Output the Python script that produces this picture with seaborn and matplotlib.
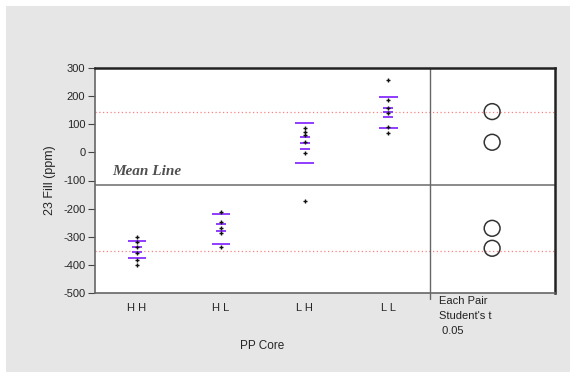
import matplotlib
matplotlib.use("Agg")
import matplotlib.pyplot as plt
import seaborn as sns
import pandas as pd
from matplotlib.patches import Rectangle

# ---- data ----
groups = ["H H", "H L", "L H", "L L"]
hh_pts = [-300, -318, -335, -359, -383, -400]
hl_pts = [-211, -246, -270, -288, -335]
lh_pts = [86, 74, 62, 38, -3, -172]
ll_pts = [257, 186, 157, 139, 91, 68]
# purple summary lines (outer = wide, inner = short)
outer_lines = [[-314, -377], [-220, -327], [106, -37], [198, 86]]
inner_lines = [[-335, -353], [-256, -278], [56, 32, 12], [157, 142, 127]]
grand_mean = -116
ref_lines = [142, -349]
circle_centers = [145, 36, -270, -341]
yticks = [300, 200, 100, 0, -100, -200, -300, -400, -500]

sns.set_theme(style="white")
plt.rcParams["font.family"] = ["Liberation Sans", "DejaVu Sans"]

rows = []
for g, pts in zip(groups, [hh_pts, hl_pts, lh_pts, ll_pts]):
    for v in pts:
        rows.append({"grp": g, "val": v})
df = pd.DataFrame(rows)

fig = plt.figure(figsize=(5.7, 3.72), dpi=100, facecolor="white")
fig.patches.append(Rectangle((6 / 570, 0), 1, 1 - 6 / 372, transform=fig.transFigure,
                             facecolor="#e6e6e6", edgecolor="none", zorder=-10))
ax = fig.add_axes([95 / 570, 1 - 293 / 372, (555 - 95) / 570, (293 - 68) / 372])
ax.set_facecolor("white")

sns.stripplot(data=df, x="grp", y="val", order=groups, jitter=False, color="#111111",
              marker="+", size=3.5, linewidth=1, ax=ax, zorder=4)

# purple summary marks
for i in range(len(groups)):
    ax.hlines(outer_lines[i], i - 0.11, i + 0.11, color="#8f3cff", lw=1.4, zorder=3)
    ax.hlines(inner_lines[i], i - 0.06, i + 0.06, color="#8f3cff", lw=1.4, zorder=3)

xmax = 3.5 + 125 / 84
ax.set_xlim(-0.5, xmax)
ax.set_ylim(-500, 300)

# mean and reference lines
ax.axhline(grand_mean, color="#777777", lw=1.2, zorder=2)
for r in ref_lines:
    ax.axhline(r, color="#ff8080", lw=0.9, ls=(0, (1, 2)), zorder=1)
ax.axvline(3.5, color="#666666", lw=1.0, zorder=2)
ax.text(-0.29, grand_mean + 48, "Mean Line", fontsize=11, style="italic", weight="bold",
        family="Liberation Serif", color="#505050", va="center")

# comparison circles
cx = 3.5 + 62 / 84
ax.scatter([cx] * len(circle_centers), circle_centers, s=130, facecolors="none",
           edgecolors="#333333", linewidths=1.1, zorder=4)

# axes styling
ax.set_yticks(yticks)
ax.set_yticklabels([str(t) for t in yticks], fontsize=8)
ax.set_xticks(range(len(groups)))
ax.set_xticklabels(groups, fontsize=8)
ax.tick_params(axis="x", which="major", length=0, pad=7)
ax.set_xticks([0.5, 1.5, 2.5], minor=True)
ax.tick_params(axis="x", which="minor", length=4, width=1, color="#444444", direction="out")
ax.tick_params(axis="y", length=5, width=0.8, color="#444444", direction="out", pad=2, left=True)
ax.set_xlabel("PP Core", fontsize=8.5)
ax.xaxis.set_label_coords((262 - 95) / 460, -(340 - 293) / 225)
ax.set_ylabel("23 Fill (ppm)", fontsize=9, labelpad=5)

for side in ["top", "right"]:
    ax.spines[side].set_color("#222222")
    ax.spines[side].set_linewidth(1.8)
for side in ["left", "bottom"]:
    ax.spines[side].set_color("#666666")
    ax.spines[side].set_linewidth(1.2)
ax.grid(False)

# divider tick below axis and comparison text
ax.plot([3.5, 3.5], [-500, -520], color="#666666", lw=1.0, clip_on=False)
ax.text(3.6, -512, "Each Pair\nStudent's t\n 0.05", fontsize=8, va="top", ha="left",
        linespacing=1.6, color="#222222")

fig.savefig("out.png", dpi=100, facecolor=fig.get_facecolor())
